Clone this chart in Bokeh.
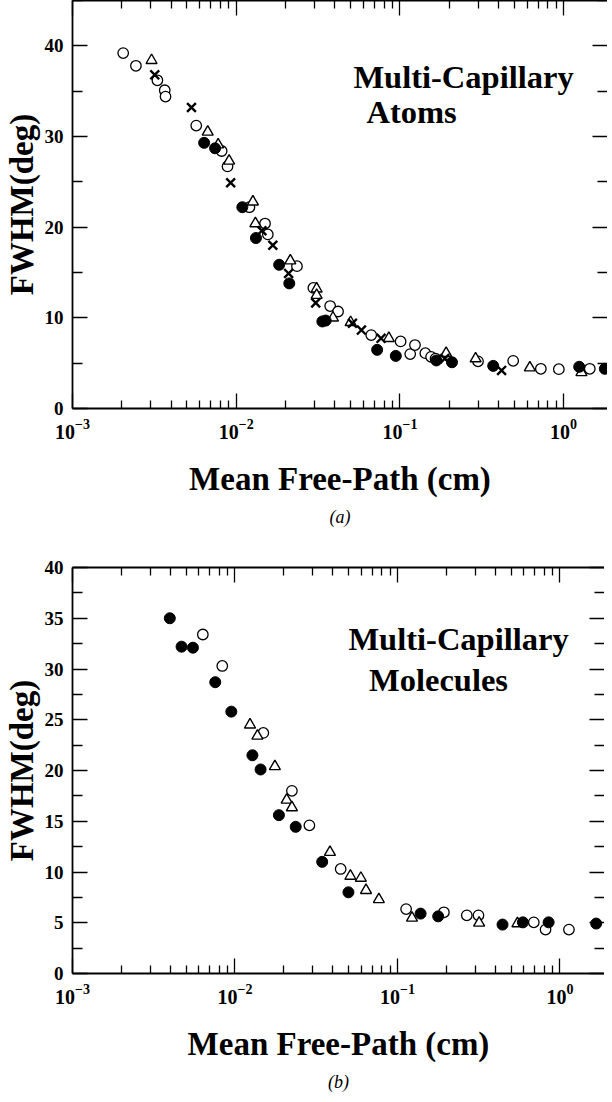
from bokeh.plotting import figure
from bokeh.models import FixedTicker, LinearAxis, LogAxis, Title, Range1d
from bokeh.layouts import column
from bokeh.embed import file_html
from bokeh.resources import INLINE
from bokeh.core.properties import value

FONT = "Liberation Serif"

# ---------------- data : panel (a) atoms ----------------
a_open_x = [0.00204, 0.00244, 0.0033, 0.00366, 0.0037, 0.0057, 0.00815, 0.00885, 0.01204, 0.0150,
            0.0156, 0.0235, 0.0296, 0.0375, 0.0419, 0.0668, 0.101, 0.1156, 0.1236, 0.143, 0.155,
            0.165, 0.30, 0.492, 0.726, 0.935, 1.445]
a_open_y = [39.2, 37.8, 36.2, 35.1, 34.4, 31.2, 28.4, 26.7, 22.2, 20.4,
            19.2, 15.7, 13.3, 11.3, 10.7, 8.1, 7.4, 6.0, 7.0, 6.1, 5.7,
            5.5, 5.2, 5.26, 4.38, 4.34, 4.38]
a_tri_x = [0.00304, 0.0067, 0.00776, 0.00905, 0.01265, 0.0131, 0.0214, 0.031, 0.031, 0.039,
           0.050, 0.0856, 0.1916, 0.29, 0.622, 1.285]
a_tri_y = [38.4, 30.5, 29.1, 27.3, 22.8, 20.4, 16.3, 13.2, 12.5, 10.0,
           9.5, 7.74, 6.1, 5.5, 4.5, 3.98]
a_fill_x = [0.00637, 0.00743, 0.0109, 0.0132, 0.0183, 0.0211, 0.0336, 0.0352, 0.0726, 0.0944,
            0.167, 0.208, 0.3715, 1.245, 1.786]
a_fill_y = [29.3, 28.7, 22.2, 18.8, 15.85, 13.8, 9.6, 9.7, 6.47, 5.8,
            5.3, 5.1, 4.7, 4.6, 4.38]
a_x_x = [0.00318, 0.00533, 0.00925, 0.01436, 0.01674, 0.0209, 0.0306, 0.0513, 0.0582, 0.0767,
         0.188, 0.418]
a_x_y = [36.8, 33.2, 24.9, 19.6, 18.0, 14.9, 11.65, 9.4, 8.65, 7.74,
         5.5, 4.2]

# ---------------- data : panel (b) molecules ----------------
b_fill_x = [0.00397, 0.00469, 0.00551, 0.00756, 0.00949, 0.0128, 0.01437, 0.01863, 0.02364, 0.0344,
            0.0499, 0.1387, 0.178, 0.443, 0.591, 0.851, 1.67]
b_fill_y = [35.0, 32.2, 32.1, 28.7, 25.8, 21.5, 20.1, 15.6, 14.45, 11.0,
            8.0, 5.9, 5.63, 4.82, 5.04, 5.04, 4.92]
b_open_x = [0.00634, 0.00835, 0.01494, 0.0224, 0.0287, 0.0447, 0.113, 0.193, 0.267, 0.315,
            0.69, 0.815, 1.135]
b_open_y = [33.4, 30.3, 23.7, 18.0, 14.6, 10.3, 6.35, 6.03, 5.73, 5.73,
            5.04, 4.33, 4.33]
b_tri_x = [0.01237, 0.01374, 0.0176, 0.0208, 0.0224, 0.0384, 0.0513, 0.0595, 0.064, 0.0768,
           0.1228, 0.318, 0.547]
b_tri_y = [24.5, 23.4, 20.4, 17.1, 16.35, 11.95, 9.6, 9.4, 8.2, 7.3,
           5.47, 4.98, 4.92]

# ---------------- axis ticks / labels ----------------
x_major = [1e-3, 1e-2, 1e-1, 1e0]
x_minor = [m * d for d in [1e-3, 1e-2, 1e-1, 1e0] for m in range(2, 10)]
a_y_major = [0, 10, 20, 30, 40]
a_y_minor = [5, 15, 25, 35, 45]
b_y_major = [0, 5, 10, 15, 20, 25, 30, 35, 40]
b_y_minor = [2.5, 7.5, 12.5, 17.5, 22.5, 27.5, 32.5, 37.5]
x_label = "Mean Free-Path (cm)"
y_label = "FWHM(deg)"


def style_axis(ax, major_in, minor_in, labels=True):
    ax.axis_line_width = 1.8
    ax.axis_line_color = "black"
    ax.major_tick_line_width = 1.3
    ax.minor_tick_line_width = 1.3
    ax.major_tick_line_color = "black"
    ax.minor_tick_line_color = "black"
    ax.major_tick_in = major_in
    ax.major_tick_out = 0
    ax.minor_tick_in = minor_in
    ax.minor_tick_out = 0
    ax.major_label_text_font = FONT
    ax.major_label_text_font_style = "bold"
    ax.major_label_text_color = "black"
    ax.axis_label_text_font = FONT
    ax.axis_label_text_font_style = "bold"
    ax.axis_label_text_color = "black"
    if not labels:
        ax.major_label_text_font_size = "1px"
        ax.major_label_text_alpha = 0
        ax.major_label_standoff = 0


def make_panel(x_end, y_end, y_major, y_minor, xs, frame_w, frame_h, frame_left,
               top_border, bottom_border, tag, line1, line2, pos1, pos2):
    p = figure(frame_width=frame_w, frame_height=frame_h, x_axis_type="log",
               x_range=Range1d(1e-3, x_end), y_range=Range1d(0, y_end),
               output_backend="svg", toolbar_location=None,
               min_border_left=frame_left, min_border_right=0,
               min_border_top=top_border, min_border_bottom=bottom_border,
               outline_line_color=None, background_fill_color="white",
               border_fill_color="white")
    p.grid.visible = False

    xa = p.xaxis[0]
    xa.ticker = FixedTicker(ticks=x_major, minor_ticks=x_minor)
    style_axis(xa, 15, 8)
    xa.major_label_text_font_size = "20px"
    xa.major_label_standoff = 10
    xa.axis_label = x_label
    xa.axis_label_text_font_size = "33px"
    xa.axis_label_standoff = 19

    ya = p.yaxis[0]
    ya.ticker = FixedTicker(ticks=y_major, minor_ticks=y_minor)
    style_axis(ya, 15, 10)
    ya.major_label_text_font_size = "19px"
    ya.major_label_standoff = 9
    ya.axis_label = y_label
    ya.axis_label_text_font_size = "33px"
    ya.axis_label_standoff = 2

    top = LogAxis(ticker=FixedTicker(ticks=x_major, minor_ticks=x_minor))
    style_axis(top, 15, 8, labels=False)
    p.add_layout(top, "above")

    right = LinearAxis(ticker=FixedTicker(ticks=y_major, minor_ticks=y_minor))
    style_axis(right, 15, 10, labels=False)
    right.axis_line_color = None
    p.add_layout(right, "right")

    p.add_layout(Title(text=tag, align="center", text_font=FONT, text_font_style="italic",
                       text_font_size="18px", text_color="black", standoff=10), "below")

    for (mx, my, kind) in xs:
        if kind == "open":
            p.scatter(mx, my, marker="circle", size=10.5, fill_color="white",
                      line_color="black", line_width=1.3)
        elif kind == "fill":
            p.scatter(mx, my, marker="circle", size=11, fill_color="black",
                      line_color="black", line_width=1.0)
        elif kind == "tri":
            p.scatter(mx, my, marker="triangle", size=11, fill_color="white",
                      line_color="black", line_width=1.4)
        elif kind == "x":
            p.scatter(mx, my, marker="x", size=12.5, line_color="black", line_width=2.4)

    p.text(x=[pos1[0]], y=[pos1[1]], text=[line1], text_font=value(FONT), text_font_style="bold",
           text_font_size="32.5px", text_color="black", text_baseline="alphabetic", text_align="left")
    p.text(x=[pos2[0]], y=[pos2[1]], text=[line2], text_font=value(FONT), text_font_style="bold",
           text_font_size="32.5px", text_color="black", text_baseline="alphabetic", text_align="left")
    return p


pa = make_panel(1.854, 45, a_y_major, a_y_minor,
                [(a_open_x, a_open_y, "open"), (a_tri_x, a_tri_y, "tri"),
                 (a_fill_x, a_fill_y, "fill"), (a_x_x, a_x_y, "x")],
                535, 408, 68, 0, 125, "(a)", "Multi-Capillary", "Atoms", (0.052, 36.6), (0.0625, 32.7))

pb = make_panel(1.879, 40, b_y_major, b_y_minor,
                [(b_open_x, b_open_y, "open"), (b_tri_x, b_tri_y, "tri"),
                 (b_fill_x, b_fill_y, "fill")],
                532, 406, 71, 34, 100, "(b)", "Multi-Capillary", "Molecules", (0.0499, 33.0), (0.0668, 28.9))

layout = column(pa, pb, spacing=0)
open("out.html", "w").write(file_html(layout, INLINE))
